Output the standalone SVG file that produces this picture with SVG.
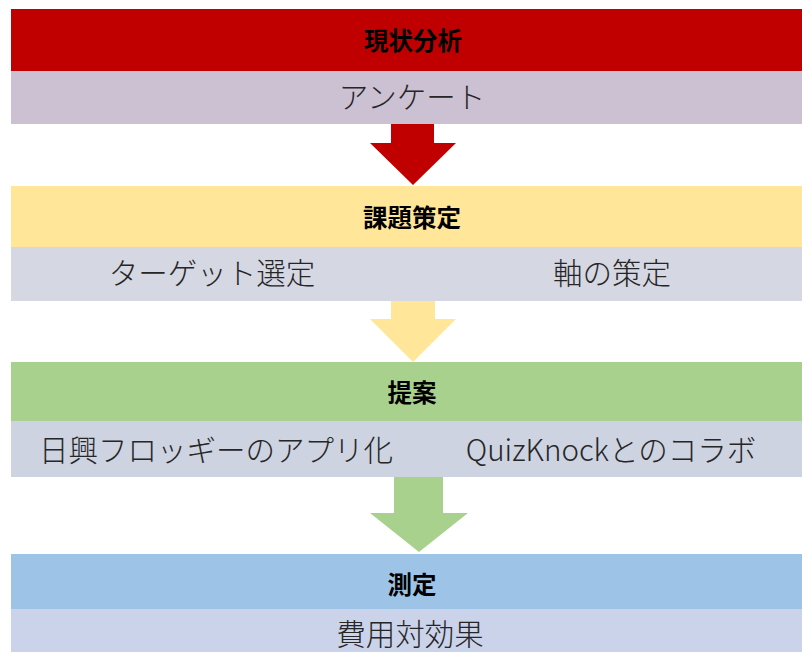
<svg xmlns="http://www.w3.org/2000/svg" width="802" height="652" viewBox="0 0 802 652">
<style>
.t{font-family:"Noto Sans CJK JP","Noto Sans",sans-serif;font-weight:bold;font-size:24.5px;fill:#000;text-anchor:middle;dominant-baseline:central}
.c{font-family:"Noto Sans CJK JP","Noto Sans",sans-serif;font-weight:300;font-size:29.5px;fill:#262626;text-anchor:middle;dominant-baseline:central}
</style>
<rect width="802" height="652" fill="#ffffff"/>
<g id="connectors">
<polygon points="391,124 434,124 434,143 456,143 413,185 370,143 391,143" fill="#C00000"/>
<polygon points="391,301 435,301 435,319 456,319 413,362 370,319 391,319" fill="#FFE699"/>
<polygon points="394,477 443,477 443,513 468,513 419,552 370,513 394,513" fill="#A9D18E"/>
</g>
<g id="stage1">
<rect x="11" y="9" width="791" height="62" fill="#C00000"/>
<rect x="11" y="71" width="791" height="53" fill="#CCC0D3"/>
<text class="t" x="413" y="39">現状分析</text>
<text class="c" x="412" y="95">アンケート</text>
</g>
<g id="stage2">
<rect x="11" y="186" width="791" height="61" fill="#FFE699"/>
<rect x="11" y="247" width="791" height="54" fill="#D5D7E3"/>
<text class="t" x="412" y="216">課題策定</text>
<text class="c" x="212" y="271">ターゲット選定</text>
<text class="c" x="612" y="271">軸の策定</text>
</g>
<g id="stage3">
<rect x="11" y="362" width="791" height="59" fill="#A9D18E"/>
<rect x="11" y="421" width="791" height="56" fill="#CDD3E1"/>
<text class="t" x="412" y="391">提案</text>
<text class="c" x="216" y="448">日興フロッギーのアプリ化</text>
<text class="c" x="611" y="448">QuizKnockとのコラボ</text>
</g>
<g id="stage4">
<rect x="11" y="554" width="791" height="55" fill="#9DC3E6"/>
<rect x="11" y="609" width="791" height="43" fill="#CBD3EA"/>
<text class="t" x="412" y="583">測定</text>
<text class="c" x="410" y="632">費用対効果</text>
</g>
</svg>
